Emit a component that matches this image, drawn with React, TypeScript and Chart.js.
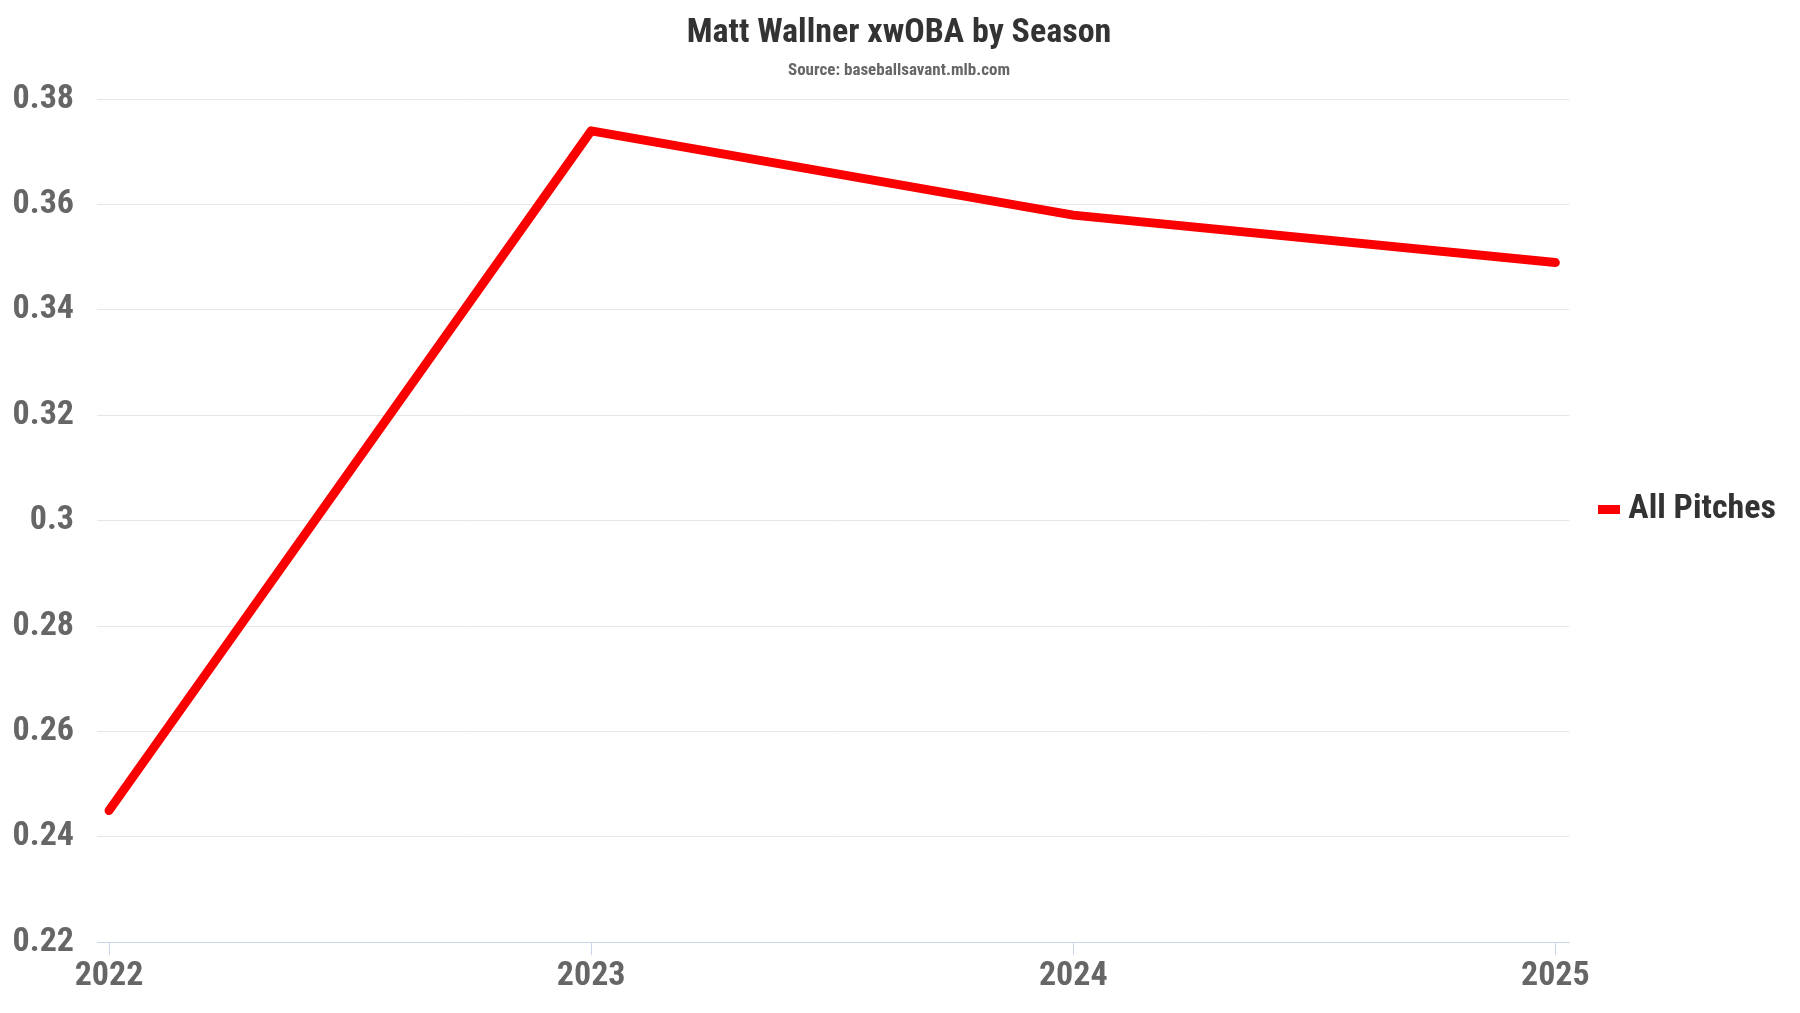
import React, { useEffect, useRef } from 'react';
import { Chart, registerables } from 'chart.js';

Chart.register(...registerables);

const chartTitle = 'Matt Wallner xwOBA by Season';
const chartSubtitle = 'Source: baseballsavant.mlb.com';
const seriesLabel = 'All Pitches';
const seasons = [2022, 2023, 2024, 2025];
const xwoba = [0.245, 0.374, 0.358, 0.349];
const yTickValues = [0.22, 0.24, 0.26, 0.28, 0.3, 0.32, 0.34, 0.36, 0.38];

const LINE_COLOR = '#fa0000';
const FONT = "'Liberation Sans Narrow', 'Roboto Condensed', Roboto, sans-serif";

function makeLegendSwatch(color: string) {
  const c = document.createElement('canvas');
  c.width = 22;
  c.height = 9;
  const ctx = c.getContext('2d');
  if (ctx) {
    ctx.fillStyle = color;
    ctx.fillRect(0, 0, 22, 9);
  }
  return c;
}

export default function App() {
  const ref = useRef<HTMLCanvasElement | null>(null);

  useEffect(() => {
    if (!ref.current) return;
    const swatch = makeLegendSwatch(LINE_COLOR);
    const chart = new Chart(ref.current, {
      type: 'line',
      data: {
        datasets: [
          {
            label: seriesLabel,
            data: seasons.map((s, i) => ({ x: s, y: xwoba[i] })),
            borderColor: LINE_COLOR,
            backgroundColor: LINE_COLOR,
            borderWidth: 9,
            pointRadius: 0,
            pointHoverRadius: 0,
            borderCapStyle: 'round',
            borderJoinStyle: 'round',
            tension: 0,
          },
        ],
      },
      options: {
        animation: false,
        responsive: true,
        maintainAspectRatio: false,
        layout: { padding: { left: 4, right: 6, bottom: 7, top: 12 } },
        plugins: {
          title: {
            display: true,
            text: chartTitle,
            color: '#333333',
            font: { family: FONT, size: 34, weight: 'bold' },
            padding: { top: -7, bottom: 0 },
          },
          subtitle: {
            display: true,
            text: chartSubtitle,
            color: '#666666',
            font: { family: FONT, size: 17, weight: 'bold' },
            padding: { top: 7, bottom: 18 },
          },
          legend: {
            position: 'right',
            labels: {
              color: '#333333',
              font: { family: FONT, size: 34, weight: 'bold' },
              usePointStyle: true,
              pointStyleWidth: 4,
              boxHeight: 9,
              padding: 38,
              generateLabels: (c: any) =>
                Chart.defaults.plugins.legend.labels.generateLabels(c).map((l: any) => ({
                  ...l,
                  lineWidth: 0,
                  pointStyle: swatch,
                })),
            },
          },
          tooltip: { enabled: false },
        },
        scales: {
          x: {
            type: 'linear',
            min: 2021.975,
            max: 2025.029,
            afterBuildTicks: (scale: any) => {
              scale.ticks = seasons.map((v) => ({ value: v }));
            },
            afterFit: (scale: any) => {
              scale.paddingLeft = 0;
              scale.paddingRight = 0;
            },
            grid: {
              drawOnChartArea: false,
              drawTicks: true,
              tickLength: 13,
              color: '#ccd6eb',
            },
            border: { display: true, color: '#ccd6eb', width: 1 },
            ticks: {
              autoSkip: false,
              maxRotation: 0,
              color: '#666666',
              padding: 1,
              font: { family: FONT, size: 34, weight: 'bold' },
              callback: (v: any) => String(v),
            },
          },
          y: {
            type: 'linear',
            min: 0.22,
            max: 0.38,
            afterBuildTicks: (scale: any) => {
              scale.ticks = yTickValues.map((v) => ({ value: v }));
            },
            afterFit: (scale: any) => {
              scale.width = 85;
            },
            grid: { color: '#e6e6e6', drawTicks: false },
            border: { display: false },
            ticks: {
              autoSkip: false,
              color: '#666666',
              padding: 23,
              font: { family: FONT, size: 34, weight: 'bold' },
              callback: (v: any) => String(+Number(v).toFixed(2)),
            },
          },
        },
      },
    } as any);
    return () => chart.destroy();
  }, []);

  return (
    <div style={{ width: '1784px', height: '997px', position: 'relative' }}>
      <canvas ref={ref} />
    </div>
  );
}
